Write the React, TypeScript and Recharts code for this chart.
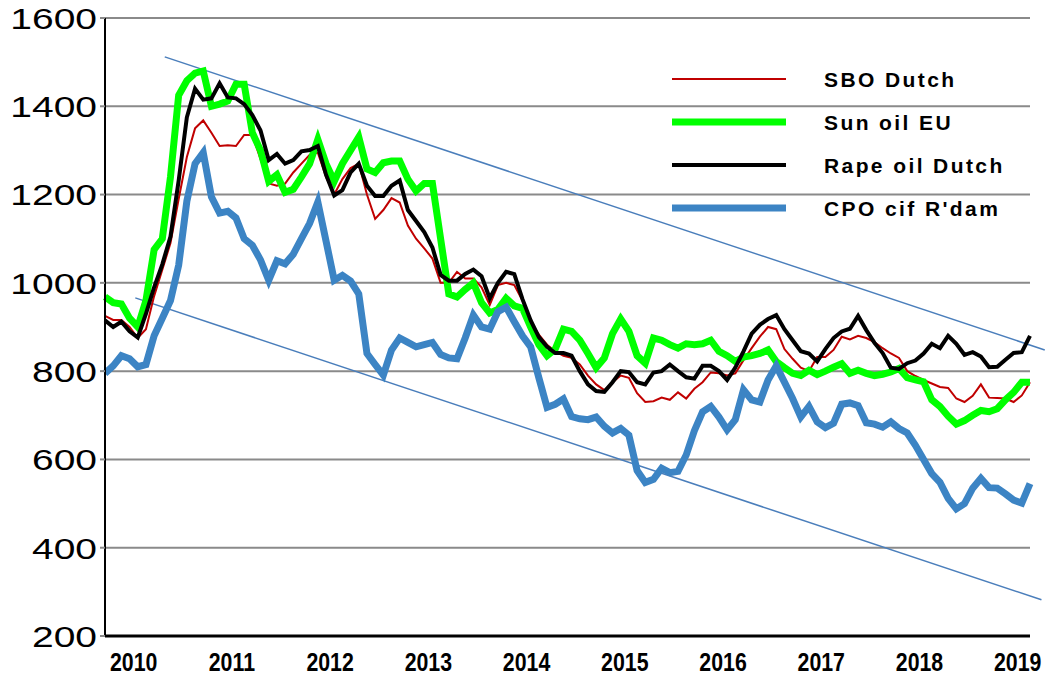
import { LineChart, Line, XAxis, YAxis, CartesianGrid, ReferenceLine, Legend } from "recharts";

// monthly, Oct 2009 .. Mar 2019 (USD/t)
const sbo = [
  925, 916, 916, 900, 875, 895, 970, 1030, 1090, 1190,
  1285, 1350, 1368, 1340, 1310, 1312, 1310, 1335, 1335, 1280,
  1225, 1220, 1225, 1250, 1270, 1290, 1295, 1240, 1200, 1235,
  1260, 1270, 1200, 1145, 1165, 1192, 1182, 1130, 1100, 1078,
  1055, 1000, 1000, 1025, 1010, 1010, 990, 950, 995, 1000,
  995, 960, 910, 883, 860, 845, 835, 830, 815, 790,
  770, 757, 775, 790, 785, 750, 730, 732, 740, 735,
  752, 738, 760, 775, 797, 795, 790, 795, 825, 852,
  878, 900, 895, 850, 828, 808, 800, 832, 832, 848,
  878, 872, 880, 875, 866, 852, 840, 830, 800, 789,
  780, 772, 764, 762, 738, 730, 744, 770, 740, 739,
  738, 730, 745, 775,
];

const sun = [
  968, 955, 952, 920, 900, 960, 1075, 1100, 1240, 1425,
  1458, 1475, 1480, 1400, 1405, 1412, 1450, 1450, 1340, 1300,
  1230, 1245, 1205, 1212, 1240, 1270, 1325, 1270, 1230, 1270,
  1300, 1330, 1258, 1250, 1272, 1276, 1276, 1235, 1208, 1225,
  1225, 1100, 975, 968, 985, 1000, 955, 932, 940, 965,
  948, 942, 900, 860, 835, 850, 895, 890, 870, 840,
  808, 830, 885, 918, 890, 835, 818, 875, 870, 860,
  852, 862, 860, 862, 870, 845, 835, 822, 832, 835,
  840, 848, 822, 808, 795, 790, 802, 792, 800, 809,
  817, 795, 802, 795, 790, 793, 798, 806, 785, 780,
  776, 735, 720, 698, 680, 688, 700, 711, 708, 715,
  735, 752, 775, 775,
];

const rape = [
  915, 900, 912, 890, 876, 930, 990, 1042, 1105, 1232,
  1375, 1440, 1415, 1418, 1452, 1420, 1418, 1405, 1380, 1345,
  1278, 1292, 1270, 1278, 1298, 1301, 1310, 1245, 1198, 1210,
  1250, 1270, 1220, 1197, 1197, 1220, 1232, 1165, 1140, 1115,
  1080, 1018, 1005, 1005, 1020, 1030, 1015, 965, 1000, 1025,
  1020, 963, 915, 877, 855, 841, 841, 835, 800, 770,
  755, 753, 775, 800, 798, 775, 770, 797, 800, 815,
  800, 786, 783, 812, 812, 800, 780, 808, 845, 885,
  905, 918, 927, 895, 870, 845, 840, 822, 850, 875,
  890, 896, 925, 893, 864, 841, 808, 805, 818, 824,
  840, 862, 852, 880, 862, 837, 843, 833, 809, 810,
  826, 841, 843, 880,
];

const cpo = [
  795, 812, 835, 828, 810, 815, 880, 920, 960, 1040,
  1185, 1270, 1295, 1195, 1158, 1162, 1147, 1100, 1085, 1052,
  1006, 1050, 1043, 1065, 1100, 1135, 1183, 1095, 1006, 1017,
  1004, 975, 840, 815, 791, 848, 875, 865, 855, 860,
  865, 838, 830, 828, 875, 927, 900, 895, 935, 945,
  912, 880, 855, 785, 718, 725, 737, 697, 692, 690,
  696, 675, 660, 670, 655, 575, 548, 555, 580, 570,
  573, 610, 665, 708, 720, 696, 667, 690, 758, 735,
  730, 780, 812, 775, 738, 696, 720, 685, 672, 682,
  725, 728, 722, 683, 680, 673, 685, 670, 660, 632,
  600, 568, 548, 512, 488, 500, 535, 557, 536, 535,
  522, 508, 501, 545,
];

const yearTicks = [3.5, 15.5, 27.5, 39.5, 51.5, 63.5, 75.5, 87.5, 99.5, 111.5];
const yearLabels = ["2010", "2011", "2012", "2013", "2014", "2015", "2016", "2017", "2018", "2019"];
const valueTicks = [200, 400, 600, 800, 1000, 1200, 1400, 1600];

// channel lines (month index, value)
const upperTrend = [
  { x: 7.3, y: 1512 },
  { x: 114.8, y: 848 },
];
const lowerTrend = [
  { x: 3.7, y: 966 },
  { x: 114.4, y: 282 },
];

const series = [
  { key: "sbo", name: "SBO Dutch", color: "#C00000", width: 2 },
  { key: "sun", name: "Sun oil EU", color: "#00FF00", width: 7 },
  { key: "rape", name: "Rape oil Dutch", color: "#000000", width: 4 },
  { key: "cpo", name: "CPO cif R'dam", color: "#3C84C4", width: 7 },
];

const data = sbo.map((v, i) => ({ i, sbo: v, sun: sun[i], rape: rape[i], cpo: cpo[i] }));

const font = "'Liberation Sans', Arial, sans-serif";

// the original's axis text is stretched sideways, so scale it
function YTick(props: any) {
  const { x, y, payload } = props;
  return (
    <text
      transform={`translate(${x},${y}) scale(1.3,1)`}
      x={0}
      y={0}
      dy="0.36em"
      textAnchor="end"
      fontFamily={font}
      fontSize={30}
      fill="#000"
    >
      {payload.value}
    </text>
  );
}

function XTick(props: any) {
  const { x, payload } = props;
  const idx = yearTicks.indexOf(payload.value);
  return (
    <text
      transform={`translate(${x},671) scale(0.82,1)`}
      x={0}
      y={0}
      textAnchor="middle"
      fontFamily={font}
      fontSize={26}
      fontWeight="bold"
      fill="#000"
    >
      {yearLabels[idx]}
    </text>
  );
}

function ChartLegend() {
  return (
    <svg width={380} height={170} style={{ display: "block" }}>
      {series.map((s, k) => {
        const cy = 19 + k * 43;
        return (
          <g key={s.key}>
            <line x1={12} x2={126} y1={cy} y2={cy} stroke={s.color} strokeWidth={s.width} />
            <text x={164} y={cy} dy="0.36em" fontFamily={font} fontSize={21} fontWeight="bold" letterSpacing={2.4} fill="#000">
              {s.name}
            </text>
          </g>
        );
      })}
    </svg>
  );
}

export default function App() {
  return (
    <div style={{ position: "absolute", left: 0, top: 0 }}>
      <LineChart width={1050} height={678} data={data} margin={{ top: 18, right: 20, bottom: 0, left: 0 }}>
        <CartesianGrid vertical={false} stroke="#8a8a8a" strokeWidth={2} />
        <XAxis
          dataKey="i"
          type="number"
          domain={[0, 113]}
          ticks={yearTicks}
          tick={<XTick />}
          tickLine={false}
          axisLine={{ stroke: "#000", strokeWidth: 3 }}
          height={42}
        />
        <YAxis
          type="number"
          domain={[200, 1600]}
          ticks={valueTicks}
          tick={<YTick />}
          tickLine={{ stroke: "#8a8a8a", strokeWidth: 2 }}
          tickSize={5}
          tickMargin={3}
          axisLine={{ stroke: "#000", strokeWidth: 2 }}
          width={105}
          interval={0}
        />
        <Legend
          layout="vertical"
          align="center"
          verticalAlign="middle"
          content={<ChartLegend />}
          wrapperStyle={{ position: "absolute", left: 660, top: 60, width: 380, height: 170 }}
        />
        <ReferenceLine segment={upperTrend} stroke="#4A7EBB" strokeWidth={1.5} ifOverflow="visible" />
        <ReferenceLine segment={lowerTrend} stroke="#4A7EBB" strokeWidth={1.5} ifOverflow="visible" />
        {series.map((s) => (
          <Line
            key={s.key}
            dataKey={s.key}
            name={s.name}
            type="linear"
            stroke={s.color}
            strokeWidth={s.width}
            dot={false}
            isAnimationActive={false}
          />
        ))}
      </LineChart>
    </div>
  );
}
